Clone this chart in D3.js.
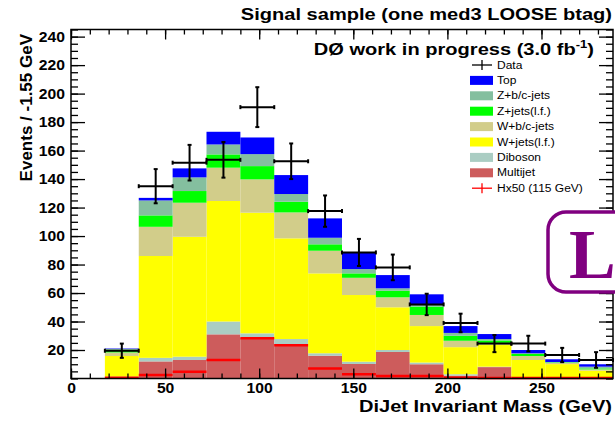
<!DOCTYPE html>
<html lang="en">
<head>
<meta charset="UTF-8">
<script src="https://cdn.jsdelivr.net/npm/d3@7"></script>
<style>
  body { margin: 0; background: #fff; }
  text { font-family: "Liberation Sans", Arial, sans-serif; }
</style>
<title>DiJet mass</title>
</head>
<body>
<div id="chart"></div>
<script>
// bin edges (GeV)
const binEdges = [18, 36, 54, 72, 90, 108, 126, 144, 162, 180, 198, 216, 234, 252, 270, 288];

// stacked backgrounds, bottom to top
const multijet = [1, 12, 13, 31, 28.5, 24.2, 16, 10.2, 18.6, 10, 2, 8, 0.5, 0.4, 0.3];
const diboson  = [0.3, 2.5, 2.3, 9, 3.2, 3.5, 1.7, 1.6, 1.4, 1.2, 1, 0.3, 0.3, 0.2, 0.2];
const wjetsLF  = [14.5, 71.5, 84.2, 84.6, 84.7, 70.7, 56.1, 46.8, 30, 25.6, 19, 15.2, 12.2, 9.5, 5];
const wbcJets  = [2.5, 20.5, 23.9, 23.4, 23.4, 18.2, 15.9, 12.1, 7, 7.8, 4.5, 1.5, 2.8, 0.8, 0.9];
const zjetsLF  = [1.5, 8, 8.2, 9.3, 9.3, 7.5, 4.5, 3.1, 4.6, 5.9, 3.5, 1.7, 1.4, 0.4, 0.7];
const zbcJets  = [1, 10.5, 9.6, 7, 8.4, 5.4, 4.6, 3, 1.7, 1.1, 2, 1, 0.5, 0.3, 1.2];
const topQ     = [0.3, 1.8, 6.3, 8.9, 11.7, 13.3, 13.6, 11.7, 9.3, 7.5, 4.8, 3.5, 2.3, 1.9, 1.7];

// data and signal
const dataVals = [19.5, 135, 151.5, 153.5, 190.5, 152.5, 117.5, 88.5, 78, 52, 39, 24.5, 24.5, 16.5, 13];
const dataErr  = [5, 12, 12.5, 12.5, 14, 12.5, 11, 9.5, 9, 7.5, 6.5, 6, 5.5, 5, 5.5];
const hx50     = [0.6, 2.5, 4.8, 13, 28.2, 23.3, 7.1, 2.9, 1.8, 1.8, 0.5, 0.3, 0.3, 0.3, 0.3];

const xTicks = [0, 50, 100, 150, 200, 250];
const yTicks = [20, 40, 60, 80, 100, 120, 140, 160, 180, 200, 220, 240];

const stack = [
  { name: "Multijet", vals: multijet, color: "#cd5c5c" },
  { name: "Diboson", vals: diboson, color: "#aacdc3" },
  { name: "W+jets(l.f.)", vals: wjetsLF, color: "#ffff00" },
  { name: "W+b/c-jets", vals: wbcJets, color: "#d2cd8a" },
  { name: "Z+jets(l.f.)", vals: zjetsLF, color: "#00ff00" },
  { name: "Z+b/c-jets", vals: zbcJets, color: "#84bf9f" },
  { name: "Top", vals: topQ, color: "#0000ff" }
];

const W = 615, H = 421;
const stretchK = 1.18; // the original picture is a bit wider than tall

const svg = d3.select("#chart").append("svg")
  .attr("width", W).attr("height", H);
svg.append("rect").attr("width", W).attr("height", H).attr("fill", "#fff");

const x = d3.scaleLinear().domain([0, 288]).range([71, 613]);
const y = d3.scaleLinear().domain([0, 245]).range([378.5, 29.5]);

function stretch(sel, k) {
  sel.each(function () {
    const w = this.getComputedTextLength();
    d3.select(this).attr("textLength", w * k).attr("lengthAdjust", "spacingAndGlyphs");
  });
}

// stacked histogram
const bins = d3.range(dataVals.length);
const cum = bins.map(() => 0);
stack.forEach(s => {
  svg.append("g").selectAll("rect")
    .data(bins)
    .enter().append("rect")
      .attr("x", i => x(binEdges[i]))
      .attr("width", i => x(binEdges[i + 1]) - x(binEdges[i]))
      .attr("y", i => y(cum[i] + s.vals[i]))
      .attr("height", i => y(cum[i]) - y(cum[i] + s.vals[i]))
      .attr("fill", s.color);
  bins.forEach(i => { cum[i] += s.vals[i]; });
});

// Hx50 signal
svg.append("g").selectAll("line")
  .data(bins)
  .enter().append("line")
    .attr("x1", i => x(binEdges[i]))
    .attr("x2", i => x(binEdges[i + 1]))
    .attr("y1", i => y(hx50[i]))
    .attr("y2", i => y(hx50[i]))
    .attr("stroke", "#ff0000")
    .attr("stroke-width", 2.5);

// data points with error bars
const pts = svg.append("g").attr("stroke", "#000").attr("stroke-width", 2);
bins.forEach(i => {
  const x0 = x(binEdges[i]), x1 = x(binEdges[i + 1]);
  const xc = (x0 + x1) / 2;
  const yc = y(dataVals[i]);
  const yl = y(dataVals[i] - dataErr[i]), yh = y(dataVals[i] + dataErr[i]);
  pts.append("line").attr("x1", x0).attr("x2", x1).attr("y1", yc).attr("y2", yc);
  pts.append("line").attr("x1", xc).attr("x2", xc).attr("y1", yl).attr("y2", yh);
  // little caps
  pts.append("line").attr("x1", xc - 2).attr("x2", xc + 2).attr("y1", yl).attr("y2", yl);
  pts.append("line").attr("x1", xc - 2).attr("x2", xc + 2).attr("y1", yh).attr("y2", yh);
  pts.append("line").attr("x1", x0).attr("x2", x0).attr("y1", yc - 2).attr("y2", yc + 2);
  pts.append("line").attr("x1", x1).attr("x2", x1).attr("y1", yc - 2).attr("y2", yc + 2);
});

// axes: minor and major ticks, pointing inwards
const minorX = d3.range(0, 289, 10);
const minorY = d3.range(0, 246, 5);

function ax(gen, tx, ty, vals, size, labels) {
  const g = svg.append("g")
    .attr("transform", `translate(${tx},${ty})`)
    .call(gen.tickValues(vals).tickSizeInner(-size).tickSizeOuter(0)
      .tickFormat(labels ? d3.format("d") : ""));
  g.select(".domain").remove();
  g.selectAll("line").attr("stroke", "#000").attr("stroke-width", 1.3);
  return g;
}

ax(d3.axisBottom(x), 0, 378.5, minorX, 5, false);
ax(d3.axisTop(x), 0, 29.5, minorX, 5, false);
ax(d3.axisLeft(y), 71, 0, minorY, 7, false);
ax(d3.axisRight(y), 613, 0, minorY, 7, false);

const xg = ax(d3.axisBottom(x).tickPadding(5), 0, 378.5, xTicks, 10, true);
ax(d3.axisTop(x), 0, 29.5, xTicks, 10, false);
const yg = ax(d3.axisLeft(y).tickPadding(6), 71, 0, yTicks, 14, true);
ax(d3.axisRight(y), 613, 0, yTicks, 14, false);

[xg, yg].forEach(g => {
  g.selectAll("text")
    .attr("fill", "#000")
    .style("font-size", "14px")
    .style("font-weight", "bold");
  stretch(g.selectAll("text"), 1.12);
});

// frame
svg.append("rect")
  .attr("x", x(0)).attr("y", y(245))
  .attr("width", x(288) - x(0)).attr("height", y(0) - y(245))
  .attr("fill", "none").attr("stroke", "#000").attr("stroke-width", 1.5);

// titles
const title = svg.append("text")
  .attr("x", 612).attr("y", 20)
  .attr("text-anchor", "end")
  .style("font-size", "17px").style("font-weight", "bold")
  .text("Signal sample (one med3 LOOSE btag)");
stretch(title, stretchK);

const xLabel = svg.append("text")
  .attr("x", 612).attr("y", 412)
  .attr("text-anchor", "end")
  .style("font-size", "17px").style("font-weight", "bold")
  .text("DiJet Invariant Mass (GeV)");
stretch(xLabel, stretchK);

svg.append("text")
  .attr("transform", "translate(32,34) rotate(-90)")
  .attr("text-anchor", "end")
  .style("font-size", "17px").style("font-weight", "bold")
  .text("Events / -1.55 GeV");

const d0 = svg.append("text")
  .attr("x", 594).attr("y", 55)
  .attr("text-anchor", "end")
  .style("font-size", "17px").style("font-weight", "bold");
d0.append("tspan").text("DØ work in progress (3.0 fb");
d0.append("tspan").attr("dy", -7).style("font-size", "11px").text("-1");
d0.append("tspan").attr("dy", 7).text(")");
stretch(d0, stretchK);

// legend
const leg = svg.append("g");
const legItems = [{ name: "Data", kind: "data" }]
  .concat(stack.slice().reverse().map(s => ({ name: s.name, kind: "box", color: s.color })))
  .concat([{ name: "Hx50 (115 GeV)", kind: "sig" }]);

legItems.forEach((d, i) => {
  const cy = 65 + i * 15.4;
  if (d.kind === "box") {
    leg.append("rect").attr("x", 470).attr("y", cy - 4.5)
      .attr("width", 23).attr("height", 9).attr("fill", d.color);
  } else {
    const c = d.kind === "data" ? "#000" : "#ff0000";
    leg.append("line").attr("x1", 472).attr("x2", 492).attr("y1", cy).attr("y2", cy)
      .attr("stroke", c).attr("stroke-width", 1.3);
    leg.append("line").attr("x1", 482).attr("x2", 482).attr("y1", cy - 5).attr("y2", cy + 5)
      .attr("stroke", c).attr("stroke-width", 1.3);
  }
  const t = leg.append("text").attr("x", 497).attr("y", cy + 3.6)
    .style("font-size", "10px").text(d.name);
  stretch(t, 1.2);
});

// slide overlay box
svg.append("rect")
  .attr("x", 548).attr("y", 212)
  .attr("width", 100).attr("height", 80)
  .attr("rx", 18).attr("ry", 18)
  .attr("fill", "#fff").attr("stroke", "#800080").attr("stroke-width", 3.5);
svg.append("text")
  .attr("x", 569).attr("y", 278)
  .style("font-family", "'Liberation Serif', 'DejaVu Serif', serif")
  .style("font-size", "70px").style("font-weight", "bold")
  .attr("fill", "#800080")
  .text("L");
</script>
</body>
</html>
